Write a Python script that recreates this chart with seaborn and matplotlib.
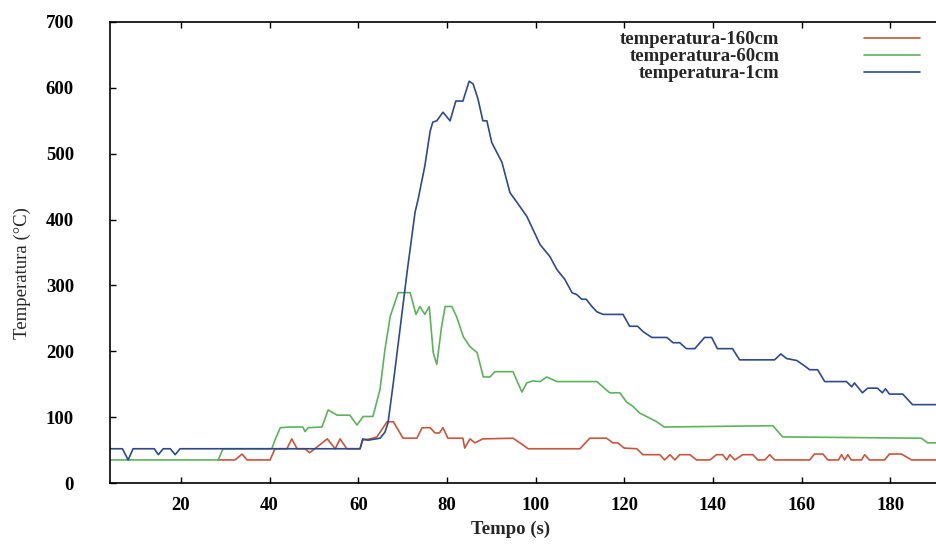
import matplotlib
matplotlib.use("Agg")
import matplotlib.pyplot as plt
import seaborn as sns
import pandas as pd

# Thermocouple readings: time (s) and temperature (°C) per sensor height
t_160cm = [28.4, 32.2, 33.8, 34.9, 40.1, 41.2, 43.9, 45.0, 46.2, 48.0, 49.0, 50.2, 53.0, 54.8,
           55.9, 57.4, 60.4, 61.0, 63.3, 64.2, 66.5, 67.9, 70.1, 73.2, 74.4, 76.2, 77.3, 78.3,
           79.1, 80.2, 83.6, 84.0, 85.2, 86.3, 88.1, 94.9, 97.1, 98.3, 110.0, 112.2, 116.0,
           117.4, 118.5, 120.0, 122.8, 124.2, 128.0, 129.1, 130.3, 131.4, 132.5, 134.8, 136.3,
           139.3, 140.8, 142.2, 143.1, 143.8, 144.9, 146.7, 149.0, 150.1, 151.7, 152.8, 153.9,
           161.8, 162.9, 164.8, 165.9, 168.3, 169.0, 169.7, 170.4, 171.2, 173.5, 174.2, 175.3,
           178.7, 179.8, 182.5, 184.8, 190.5]
T_160cm = [35, 35, 44, 35, 35, 52, 52, 67, 52, 52, 46, 52, 67, 52,
           67, 52, 52, 65, 68, 70, 93, 93, 68, 68, 84, 84, 76, 76,
           84, 68, 68, 53, 67, 61, 67, 68, 58, 52, 52, 68, 68,
           61, 61, 53, 52, 43, 43, 35, 43, 35, 43, 43, 35,
           35, 43, 43, 35, 43, 35, 43, 43, 35, 35, 43, 35,
           35, 44, 44, 35, 35, 43, 35, 43, 35, 35, 43, 35,
           35, 44, 44, 35, 35]

t_60cm = [4.0, 28.4, 29.5, 40.5, 41.2, 42.4, 44.6, 47.5, 48.0, 48.7, 51.8, 53.2, 55.2, 58.1,
          59.7, 61.1, 63.3, 64.9, 66.0, 67.2, 69.0, 71.7, 73.0, 73.9, 75.0, 76.0, 76.9, 77.7,
          78.8, 79.6, 81.1, 82.2, 83.7, 85.2, 86.8, 88.2, 89.7, 90.8, 94.9, 96.9, 98.0, 99.4,
          101.0, 102.5, 104.8, 113.8, 116.7, 119.0, 120.5, 122.0, 123.5, 125.0, 127.3, 129.0,
          153.5, 155.7, 187.0, 188.4, 190.5]
T_60cm = [35, 35, 52, 52, 65, 84, 85, 85, 78, 84, 85, 111, 103, 103,
          88, 101, 101, 142, 202, 253, 289, 289, 256, 268, 256, 268, 198, 180,
          238, 268, 268, 252, 222, 207, 198, 161, 161, 169, 169, 138, 152, 155,
          154, 161, 154, 154, 137, 137, 123, 116, 106, 101, 93, 85,
          87, 70, 68, 61, 61]

t_1cm = [4.0, 6.8, 8.1, 9.2, 14.0, 14.9, 16.0, 17.6, 18.7, 19.8, 60.4, 61.0, 62.2, 64.9,
         66.0, 66.7, 67.9, 69.4, 71.0, 72.8, 73.5, 75.0, 76.2, 76.8, 77.7, 79.1, 80.7, 82.0,
         83.6, 85.0, 85.9, 87.0, 88.1, 89.0, 90.1, 92.4, 94.2, 95.8, 98.0, 101.0, 103.2,
         104.8, 106.6, 108.2, 109.3, 110.4, 111.4, 112.7, 113.8, 115.2, 119.7, 121.2, 123.0,
         124.2, 126.2, 129.6, 131.0, 132.5, 134.0, 135.9, 138.1, 139.7, 141.0, 144.4, 146.0,
         153.9, 155.3, 156.6, 158.9, 160.2, 161.8, 163.6, 165.2, 170.1, 171.3, 171.9, 173.7,
         174.9, 177.1, 178.2, 178.9, 179.8, 182.8, 185.0, 190.5]
T_1cm = [52, 52, 35, 52, 52, 43, 52, 52, 43, 52, 52, 67, 65, 68,
         77, 91, 152, 233, 320, 411, 431, 481, 534, 548, 550, 563, 550, 580,
         580, 610, 606, 583, 550, 550, 517, 487, 441, 426, 405, 362, 344,
         324, 309, 289, 286, 279, 279, 268, 260, 256, 256, 238, 238,
         230, 221, 221, 213, 213, 204, 204, 221, 221, 204, 204, 187,
         187, 196, 189, 186, 180, 172, 172, 154, 154, 146, 152, 137,
         144, 144, 137, 143, 135, 135, 119, 119]

series_labels = ["temperatura-160cm", "temperatura-60cm", "temperatura-1cm"]
series_colors = ["#c8553d", "#5cb35c", "#2e4a8c"]
x_ticks = [20, 40, 60, 80, 100, 120, 140, 160, 180]
y_ticks = [0, 100, 200, 300, 400, 500, 600, 700]

sns.set_theme(style="white")
plt.rcParams["font.family"] = ["Liberation Serif", "DejaVu Serif"]

fig = plt.figure(figsize=(9.36, 5.47), dpi=100)
ax = fig.add_axes([110 / 936, 1 - 483 / 547, 1 - 110 / 936, (483 - 22) / 547])

for t, T, lab, col in zip([t_160cm, t_60cm, t_1cm], [T_160cm, T_60cm, T_1cm],
                          series_labels, series_colors):
    df = pd.DataFrame({"t": t, "T": T})
    sns.lineplot(data=df, x="t", y="T", ax=ax, color=col, label=lab,
                 estimator=None, sort=False, linewidth=1.2)

ax.set_xlim(4, 190.3)
ax.set_ylim(0, 700)
ax.set_xticks(x_ticks)
ax.set_yticks(y_ticks)
ax.set_xticklabels([str(v) for v in x_ticks], fontsize=13.5, fontweight="bold")
ax.set_yticklabels([str(v) for v in y_ticks], fontsize=13.5, fontweight="bold")
ax.tick_params(axis="x", direction="in", length=4, width=1, top=True, bottom=True,
               pad=10, colors="black")
ax.tick_params(axis="y", direction="in", length=4, width=1, left=True, right=False,
               pad=26, colors="black")

for side in ["left", "bottom", "top"]:
    ax.spines[side].set_visible(True)
    ax.spines[side].set_color("black")
    ax.spines[side].set_linewidth(1.2)
ax.spines["right"].set_visible(False)

ax.set_xlabel("Tempo (s)", fontsize=13.5, fontweight="bold")
ax.set_ylabel("Temperatura (°C)", fontsize=13.5)
ax.xaxis.set_label_coords((511 - 110) / 826, -(521 - 483) / 461)
ax.yaxis.set_label_coords(-(110 - 31) / 826, (483 - 273) / 461)

leg = ax.legend(loc="upper right", bbox_to_anchor=(920 / 936, 1 - 31 / 547),
                bbox_transform=fig.transFigure, frameon=False, markerfirst=False,
                borderpad=0, borderaxespad=0, handlelength=3.0, handletextpad=4.5,
                labelspacing=0.0, prop={"size": 13.5, "weight": "bold"})
for line in leg.get_lines():
    line.set_linewidth(1.2)

fig.savefig("out.png", dpi=100, facecolor="white")
